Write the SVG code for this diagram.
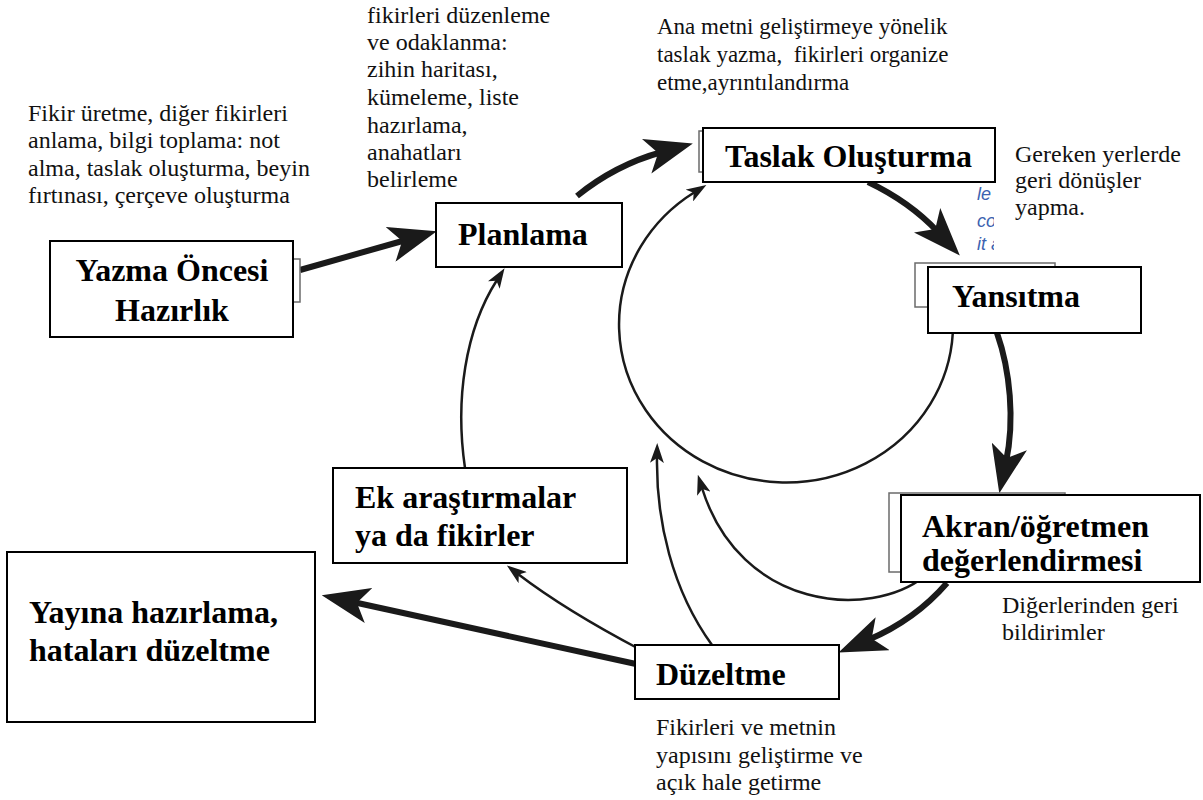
<svg xmlns="http://www.w3.org/2000/svg" width="1203" height="800" viewBox="0 0 1203 800">
<defs>
<style>
.box{fill:#fff;stroke:#000;stroke-width:2}
.back{fill:#fff;stroke:#6b6b6b;stroke-width:1.5}
.lbl{font-family:"Liberation Serif","Times New Roman",serif;font-weight:bold;font-size:32px;fill:#000}
.note{font-family:"Liberation Serif","Times New Roman",serif;font-size:24px;fill:#111}
.note23{font-family:"Liberation Serif","Times New Roman",serif;font-size:23px;fill:#111}
.thick{fill:none;stroke:#1a1a1a;stroke-width:6;marker-end:url(#hb)}
.thin{fill:none;stroke:#1a1a1a;stroke-width:2.5;marker-end:url(#hs)}
.frag{font-family:"Liberation Sans",Arial,sans-serif;font-style:italic;font-size:18px;fill:#3b62b0}
</style>
<marker id="hb" viewBox="0 0 48 36" refX="16" refY="18" markerWidth="48" markerHeight="36" markerUnits="userSpaceOnUse" orient="auto"><path d="M0,0 L48,18 L0,36 L12,18 Z" fill="#1a1a1a"/></marker>
<marker id="hs" viewBox="0 0 20 14" refX="6" refY="7" markerWidth="20" markerHeight="14" markerUnits="userSpaceOnUse" orient="auto"><path d="M0,0 L20,7 L0,14 L5,7 Z" fill="#1a1a1a"/></marker>
<clipPath id="fragclip"><rect x="960" y="184" width="34" height="72"/></clipPath>
</defs>
<rect width="1203" height="800" fill="#fff"/>

<g id="connectors">
<path class="thick" d="M300,270 L406,240"/>
<path class="thick" d="M577,196 Q615,165 662,152"/>
<path class="thick" d="M868,182 Q910,202 938,232"/>
<path class="thick" d="M997,333 C1010,370 1015,420 1006,462"/>
<path class="thick" d="M947,583 Q915,620 868,640"/>
<path class="thick" d="M636,664 L353,602"/>
<path class="thin" d="M952.8,333 A167,158 0 1,1 694.5,192.3"/>
<path class="thin" d="M641,650 Q565,610 518,574"/>
<path class="thin" d="M465,468 C455,400 465,330 497,280"/>
<path class="thin" d="M712,645 C672,590 656,520 657,457"/>
<path class="thin" d="M925,576 C870,620 740,610 702,488"/>
</g>

<g id="notes">
<text class="note"><tspan x="28" y="121">Fikir üretme, diğer fikirleri</tspan><tspan x="28" y="148">anlama, bilgi toplama: not</tspan><tspan x="28" y="176">alma, taslak oluşturma, beyin</tspan><tspan x="28" y="203">fırtınası, çerçeve oluşturma</tspan></text>
<text class="note"><tspan x="367" y="23">fikirleri düzenleme</tspan><tspan x="367" y="50">ve odaklanma:</tspan><tspan x="367" y="77">zihin haritası,</tspan><tspan x="367" y="105">kümeleme, liste</tspan><tspan x="367" y="133">hazırlama,</tspan><tspan x="367" y="160">anahatları</tspan><tspan x="367" y="187">belirleme</tspan></text>
<text class="note23" xml:space="preserve"><tspan x="657" y="34">Ana metni geliştirmeye yönelik</tspan><tspan x="657" y="62">taslak yazma,  fikirleri organize</tspan><tspan x="657" y="90">etme,ayrıntılandırma</tspan></text>
<text class="note"><tspan x="1015" y="162">Gereken yerlerde</tspan><tspan x="1015" y="188">geri dönüşler</tspan><tspan x="1015" y="215">yapma.</tspan></text>
<text class="note"><tspan x="1002" y="613">Diğerlerinden geri</tspan><tspan x="1002" y="640">bildirimler</tspan></text>
<text class="note"><tspan x="656" y="735">Fikirleri ve metnin</tspan><tspan x="656" y="763">yapısını geliştirme ve</tspan><tspan x="656" y="790">açık hale getirme</tspan></text>
<g clip-path="url(#fragclip)">
<text class="frag" x="977" y="200">le</text>
<text class="frag" x="977" y="227">co</text>
<text class="frag" x="977" y="250">it a</text>
</g>
</g>

<g id="node-yazma">
<rect class="back" x="290" y="259" width="10" height="43"/>
<rect class="box" x="50" y="241" width="243" height="96"/>
<text class="lbl" text-anchor="middle"><tspan x="172" y="281">Yazma Öncesi</tspan><tspan x="172" y="321">Hazırlık</tspan></text>
</g>

<g id="node-planlama">
<rect class="box" x="436" y="203" width="186" height="64"/>
<text class="lbl" x="458" y="245">Planlama</text>
</g>

<g id="node-taslak">
<rect class="back" x="699" y="131" width="120" height="41"/>
<rect class="box" x="703" y="128" width="292" height="54"/>
<text class="lbl" x="725" y="167">Taslak Oluşturma</text>
</g>

<g id="node-yansitma">
<rect class="back" x="915" y="263" width="140" height="44"/>
<rect class="box" x="928" y="267" width="213" height="66"/>
<text class="lbl" x="952" y="307">Yansıtma</text>
</g>

<g id="node-akran">
<rect class="back" x="889" y="493" width="176" height="79"/>
<rect class="box" x="901" y="495" width="299" height="87"/>
<text class="lbl"><tspan x="922" y="537">Akran/öğretmen</tspan><tspan x="922" y="571">değerlendirmesi</tspan></text>
</g>

<g id="node-duzeltme">
<rect class="box" x="635" y="645" width="204" height="54"/>
<text class="lbl" x="656" y="685">Düzeltme</text>
</g>

<g id="node-ek">
<rect class="box" x="333" y="468" width="294" height="95"/>
<text class="lbl"><tspan x="355" y="508">Ek araştırmalar</tspan><tspan x="355" y="546">ya da fikirler</tspan></text>
</g>

<g id="node-yayina">
<rect class="box" x="7" y="552" width="308" height="170"/>
<text class="lbl"><tspan x="29" y="623">Yayına hazırlama,</tspan><tspan x="29" y="661">hataları düzeltme</tspan></text>
</g>
</svg>
